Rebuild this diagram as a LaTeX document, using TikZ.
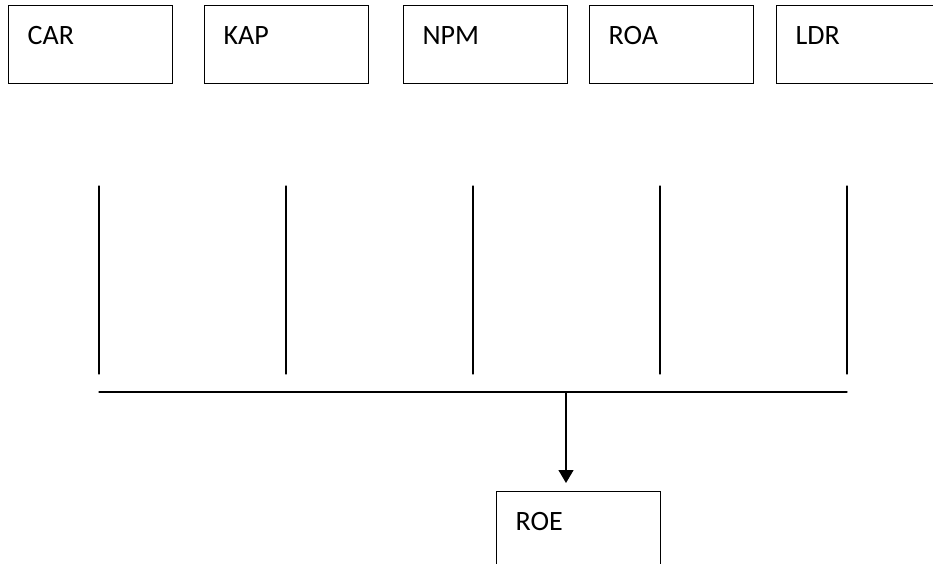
\documentclass[tikz,border=0pt]{standalone}
\usepackage{fontspec}
\setmainfont{Carlito}
\usetikzlibrary{arrows.meta}

\begin{document}
\begin{tikzpicture}[x=1pt, y=-1pt, line width=1.3pt]
  % Styles des cases
  \tikzset{ratio/.style={draw, rectangle, anchor=north west, align=left,
      text width=126pt, inner xsep=19pt, inner ysep=0pt,
      text height=39pt, text depth=39pt, font=\fontsize{28}{32}\selectfont}}
  \tikzset{link/.style={line width=1.3pt, line cap=round}}

  \useasboundingbox (0,0) rectangle (933,564);
  \clip (0,0) rectangle (933,564);

  % Variables independantes
  \node[ratio] (car) at (8,5) {CAR};
  \node[ratio] (kap) at (204,5) {KAP};
  \node[ratio] (npm) at (403,5) {NPM};
  \node[ratio] (roa) at (589,5) {ROA};
  \node[ratio] (ldr) at (776,5) {LDR};

  % Variable dependante
  \node[ratio] (roe) at (496,491) {ROE};

  % Traits verticaux
  \coordinate (cartop) at (99,186);   \coordinate (carbot) at (99,374);
  \coordinate (kaptop) at (286,186);  \coordinate (kapbot) at (286,374);
  \coordinate (npmtop) at (473,186);  \coordinate (npmbot) at (473,374);
  \coordinate (roatop) at (660,186);  \coordinate (roabot) at (660,374);
  \coordinate (ldrtop) at (847,186);  \coordinate (ldrbot) at (847,374);
  \draw[link] (cartop) -- (carbot);
  \draw[link] (kaptop) -- (kapbot);
  \draw[link] (npmtop) -- (npmbot);
  \draw[link] (roatop) -- (roabot);
  \draw[link] (ldrtop) -- (ldrbot);

  % Barre horizontale et fleche
  \coordinate (barleft) at (99,392);
  \coordinate (barright) at (847,392);
  \coordinate (arrowtop) at (566,392);
  \draw[link] (barleft) -- (barright);
  \draw[line width=1.3pt, -{Triangle[length=13pt, width=15pt]}, shorten >=8pt]
    (arrowtop) -- (arrowtop |- roe.north);
\end{tikzpicture}
\end{document}
